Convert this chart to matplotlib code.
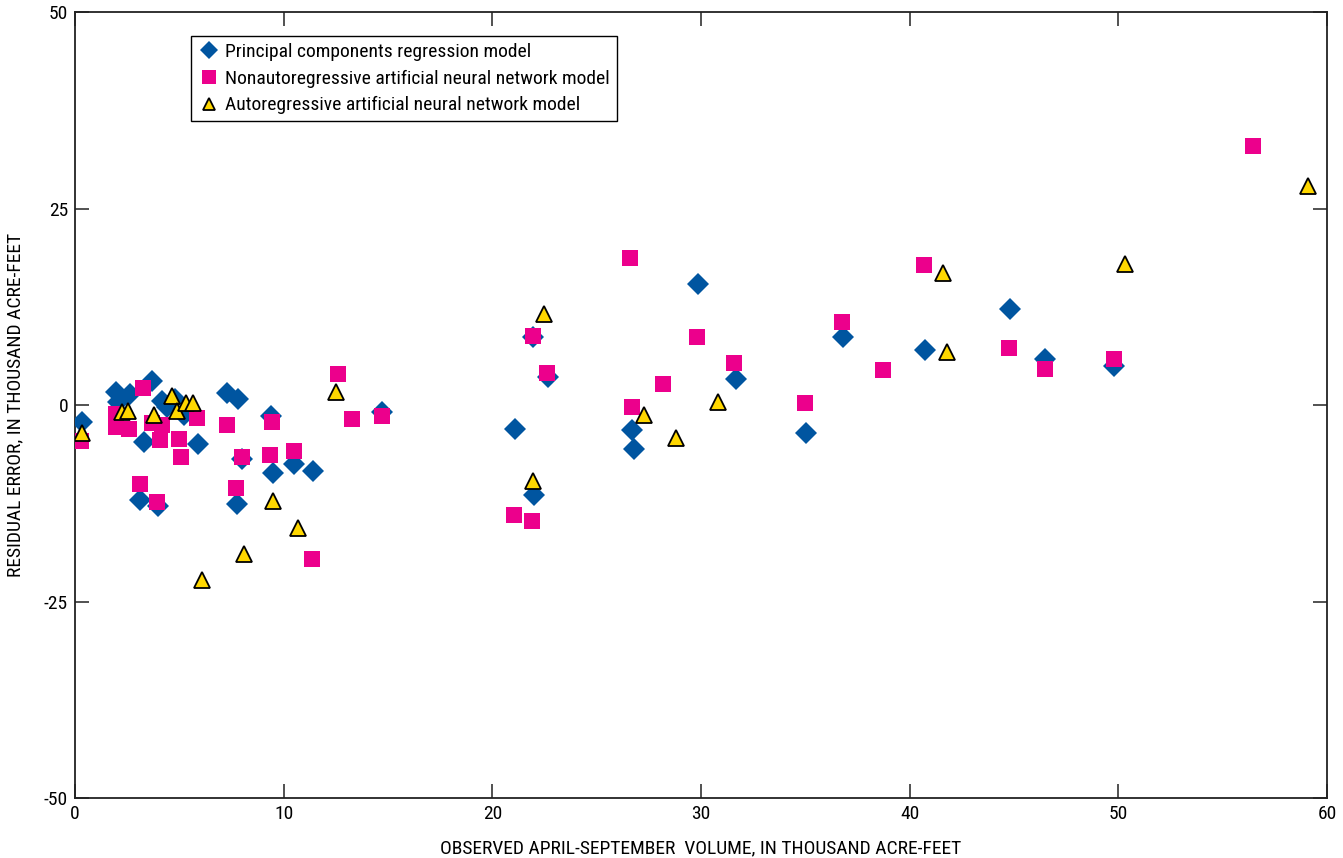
import matplotlib
matplotlib.use("Agg")
import matplotlib.pyplot as plt
from matplotlib import font_manager

# Residuals of three streamflow-volume models vs observed April-September volume
pcr_x = [0.34, 1.96, 2.05, 2.64, 3.7, 4.15, 4.4, 4.8, 5.2, 3.3, 5.9, 3.1, 4.0,
         7.3, 7.8, 8.0, 7.75, 9.4, 9.5, 10.5, 11.4, 14.7, 21.1, 21.95, 22.0,
         22.65, 26.7, 26.8, 29.85, 31.7, 35.05, 36.8, 40.75, 44.8, 46.5, 49.8]
pcr_y = [-2.1, 1.6, 0.4, 1.4, 3.1, 0.5, -0.3, 0.8, -1.3, -4.7, -4.9, -12.1, -12.9,
         1.5, 0.8, -6.9, -12.6, -1.4, -8.7, -7.5, -8.4, -0.9, -3.0, 8.7, -11.5,
         3.5, -3.2, -5.6, 15.4, 3.3, -3.5, 8.7, 7.0, 12.2, 5.8, 4.9]

nann_x = [0.3, 1.95, 1.95, 2.6, 3.27, 3.67, 4.15, 4.05, 5.0, 5.85, 7.3, 5.1, 8.0,
          9.35, 9.42, 10.5, 3.1, 3.95, 7.7, 11.35, 12.6, 13.27, 14.7, 21.05, 21.9,
          21.95, 22.6, 26.6, 26.7, 28.2, 29.8, 31.6, 35.0, 36.75, 38.7, 40.7,
          44.75, 46.5, 49.8, 56.45]
nann_y = [-4.6, -1.2, -2.8, -3.0, 2.2, -2.3, -2.5, -4.5, -4.3, -1.7, -2.5, -6.6, -6.6,
          -6.3, -2.1, -5.8, -10.1, -12.3, -10.5, -19.6, 3.9, -1.8, -1.4, -14.0, -14.7,
          8.8, 4.1, 18.7, -0.3, 2.7, 8.6, 5.4, 0.2, 10.6, 4.4, 17.8,
          7.3, 4.6, 5.9, 32.9]

aann_x = [0.34, 2.24, 2.56, 3.79, 4.65, 4.87, 5.32, 5.67, 6.1, 8.1, 9.47, 10.7,
          12.5, 21.96, 22.46, 27.26, 28.8, 30.8, 41.6, 41.8, 50.3, 59.1]
aann_y = [-3.5, -0.9, -0.7, -1.3, 1.2, -0.8, 0.2, 0.2, -22.3, -18.9, -12.2, -15.7,
          1.7, -9.7, 11.6, -1.3, -4.2, 0.4, 16.8, 6.7, 18.0, 27.8]

x_ticks = [0, 10, 20, 30, 40, 50, 60]
y_ticks = [-50, -25, 0, 25, 50]

# pick a narrow sans face if one is installed
fonts = font_manager.fontManager.ttflist
names = {f.name for f in fonts}
condensed = {f.name for f in fonts if f.stretch in ("condensed", "semi-condensed", 500 - 100)}
family, stretch = "Roboto", "normal"
for cand in ["Liberation Sans Narrow", "Roboto Condensed", "Open Sans Condensed"]:
    if cand in names:
        family = cand
        break
else:
    if "DejaVu Sans" in condensed:
        family, stretch = "DejaVu Sans", "condensed"
    elif "Roboto" not in names:
        family = "DejaVu Sans"
plt.rcParams["font.family"] = [family, "DejaVu Sans"]
plt.rcParams["font.stretch"] = stretch
plt.rcParams["font.size"] = 14

fig = plt.figure(figsize=(13.43, 8.58), dpi=100)
ax = fig.add_axes([75 / 1343, 1 - 798 / 858, 1252 / 1343, 786 / 858])

ax.plot(pcr_x, pcr_y, linestyle="none", marker="D", ms=11, color="#0055A0",
        markeredgewidth=0, label="Principal components regression model", zorder=3)
ax.plot(nann_x, nann_y, linestyle="none", marker="s", ms=12, color="#EC008C",
        markeredgewidth=0, label="Nonautoregressive artificial neural network model", zorder=4)
ax.plot(aann_x, aann_y, linestyle="none", marker="^", ms=11, markerfacecolor="#FFD700",
        markeredgecolor="black", markeredgewidth=1.3,
        label="Autoregressive artificial neural network model", zorder=5)

ax.set_xlim(0, 60)
ax.set_ylim(-50, 50)
ax.set_xticks(x_ticks)
ax.set_yticks(y_ticks)
ax.set_yticklabels([str(v) for v in y_ticks])
ax.tick_params(direction="in", length=10, width=1.2, color="#333333",
               top=True, right=True, labelsize=14)
ax.tick_params(axis="x", pad=5)
ax.tick_params(axis="y", pad=5)
for s in ax.spines.values():
    s.set_linewidth(1.3)
    s.set_color("#222222")

ax.set_xlabel("OBSERVED APRIL-SEPTEMBER  VOLUME, IN THOUSAND ACRE-FEET",
              fontsize=14, labelpad=12)
ax.set_ylabel("RESIDUAL ERROR, IN THOUSAND ACRE-FEET", fontsize=14, labelpad=14)

leg = ax.legend(loc="upper left", bbox_to_anchor=(0.0927, 0.9695), borderaxespad=0,
                fancybox=False, edgecolor="black", framealpha=1, fontsize=14,
                handletextpad=0.3, handlelength=1.1, labelspacing=0.45,
                borderpad=0.35, markerscale=0.8)
leg.get_frame().set_linewidth(1.0)

fig.savefig("out.png", dpi=100)
